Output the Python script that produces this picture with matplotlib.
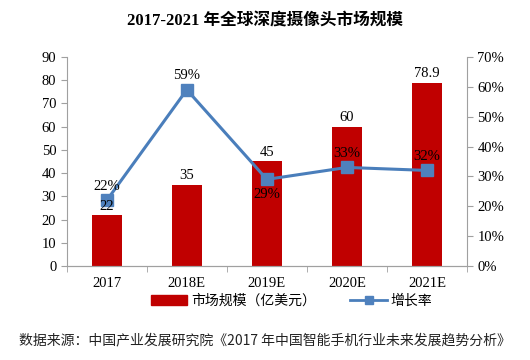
import numpy as np
import matplotlib.pyplot as plt

years = ["2017", "2018E", "2019E", "2020E", "2021E"]
market = [22, 35, 45, 60, 78.9]
growth = [22, 59, 29, 33, 32]
market_labels = ["22", "35", "45", "60", "78.9"]
growth_labels = ["22%", "59%", "29%", "33%", "32%"]

FONT = ["Liberation Serif", "Noto Sans CJK SC"]
CJK = ["Noto Sans CJK SC", "DejaVu Sans"]


def main():
    plt.rcParams["font.family"] = FONT
    fig = plt.figure(figsize=(5.3, 3.6), dpi=100)
    ax = fig.add_axes([0.126, 0.261, 0.755, 0.581])
    ax2 = ax.twinx()

    x = np.arange(len(years))
    ax.bar(x, market, width=0.38, color="#C00000", zorder=2)

    ax.set_xlim(-0.5, len(years) - 0.5)
    ax.set_ylim(0, 90)
    ax.set_yticks(range(0, 91, 10))
    ax.set_xticks(x)
    ax.set_xticklabels(years, fontsize=10.5)
    ax.set_xticks(np.arange(-0.5, len(years), 1), minor=True)
    ax.tick_params(axis="x", which="major", length=0, pad=8)
    ax.tick_params(axis="x", which="minor", length=4, color="#A0A0A0")
    ax.tick_params(axis="y", labelsize=10.5, length=4, color="#A0A0A0")

    ax2.plot(x, growth, color="#4A7EBB", lw=2.2, marker="s", ms=8.5,
             mfc="#4F81BD", mec="#4F81BD", zorder=3)
    ax2.set_ylim(0, 70)
    ax2.set_yticks(range(0, 71, 10))
    ax2.set_yticklabels([f"{t}%" for t in range(0, 71, 10)], fontsize=10.5)
    ax2.tick_params(axis="y", length=4, color="#A0A0A0")

    # bar labels drawn on the top axes so they sit over the line markers
    for xi, v, s in zip(x, market, market_labels):
        ax2.text(xi, v + 1.0, s, ha="center", va="bottom", fontsize=10.5,
                 transform=ax.transData, zorder=5)
    for xi, v, s in zip(x, growth, growth_labels):
        if s == "29%":
            ax2.text(xi, v - 3, s, ha="center", va="top", fontsize=10.5)
        else:
            ax2.text(xi, v + 2.5, s, ha="center", va="bottom", fontsize=10.5)

    for a in (ax, ax2):
        for side in ("top", "left", "right"):
            a.spines[side].set_visible(False)
        a.spines["bottom"].set_color("#A0A0A0")
    ax.spines["left"].set_visible(True)
    ax.spines["left"].set_color("#A0A0A0")
    ax2.spines["right"].set_visible(True)
    ax2.spines["right"].set_color("#A0A0A0")

    fig.text(0.5, 0.94, "2017-2021 年全球深度摄像头市场规模", ha="center",
             va="center", fontsize=12, fontweight="bold", family=FONT)

    # legend
    h1 = plt.Rectangle((0, 0), 1, 1, color="#C00000")
    h2 = plt.Line2D([], [], color="#4A7EBB", lw=2, marker="s", ms=6,
                    mfc="#4F81BD", mec="#4F81BD")
    fig.legend([h1, h2], ["市场规模（亿美元）", "增长率"], loc="center",
               bbox_to_anchor=(0.55, 0.165), ncol=2, frameon=False,
               prop={"family": CJK, "size": 10}, handlelength=2.6,
               columnspacing=2.5, handletextpad=0.3)

    fig.text(0.035, 0.055, "数据来源：中国产业发展研究院《2017 年中国智能手机行业未来发展趋势分析》",
             ha="left", va="center", fontsize=10, family=CJK, color="#222222")

    fig.savefig("out.png", dpi=100)


if __name__ == "__main__":
    main()
